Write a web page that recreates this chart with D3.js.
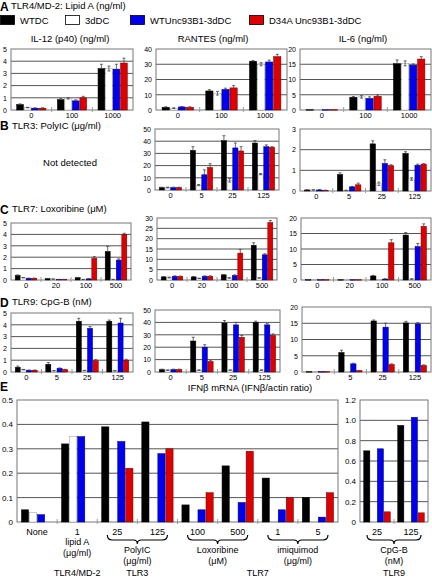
<!DOCTYPE html>
<html><head><meta charset="utf-8">
<script src="https://cdn.jsdelivr.net/npm/d3@7"></script>
<style>body{margin:0;background:#fff;font-family:"Liberation Sans",Arial,sans-serif}</style>
</head><body><svg id="c" width="432" height="578"></svg>
<script>
const seriesNames = ["WTDC","3dDC","WTUnc93B1-3dDC","D34A Unc93B1-3dDC"];
const seriesColors = ["#000000","#ffffff","#0000ee","#dd0000"];
const seriesStroke = ["#000000","#999999","#000066","#660000"];

const dosesA = ["0","100","1000"];
const dosesB = ["0","5","25","125"];
const dosesC = ["0","20","100","500"];
const dosesD = ["0","5","25","125"];

// values per dose group: [WTDC, 3dDC, WTUnc93B1, D34A]
const il12A = [[0.45,0.2,0.15,0.15],[0.85,0.95,0.75,1.0],[3.4,3.4,3.35,3.85]];
const il12Aerr = [[0.05,0.02,0.03,0.03],[0.08,0.05,0.08,0.12],[0.35,0.2,0.4,0.4]];
const rantesA = [[1.8,1.2,2.0,1.8],[12.5,11,13.5,14.5],[32,30,31.5,35]];
const rantesAerr = [[0.3,0.2,0.3,0.3],[0.8,1.2,0.8,1.5],[0.4,1,1.2,1.5]];
const il6A = [[0.1,0.1,0.1,0.1],[4.2,4.3,3.8,4.5],[15.2,15.3,14.7,16.7]];
const il6Aerr = [[0,0,0,0],[0.2,0.4,0.5,0.4],[1.2,0.8,0.4,0.8]];

const rantesB = [[2,2,2,2],[32.5,4,12.5,18.5],[40.5,8,34.5,32],[38.5,13,35.5,35]];
const rantesBerr = [[0.3,0.3,0.3,0.3],[3,0.5,4,3],[4,1.5,4,3.5],[2,0.5,1.5,0.5]];
const il6B = [[0.05,0.05,0.05,0.03],[0.8,0.03,0.2,0.3],[2.28,0.35,1.33,1.23],[1.82,0.58,1.25,1.3]];
const il6Berr = [[0.01,0.01,0.02,0.01],[0.08,0.01,0.02,0.08],[0.15,0.08,0.18,0.04],[0.08,0.06,0.05,0.02]];

const il12C = [[0.4,0.2,0.15,0.15],[0.12,0.08,0.05,0.05],[0.2,0.05,0.1,1.9],[2.5,0.05,1.75,4.0]];
const il12Cerr = [[0.05,0.02,0.02,0.02],[0.02,0.01,0.01,0.01],[0.03,0.01,0.02,0.15],[0.45,0.01,0.1,0.1]];
const rantesC = [[1.5,1.2,1.8,1.7],[1.5,0.8,1.8,1.8],[2.5,1.0,2.2,13],[16.8,1.0,12.2,27.8]];
const rantesCerr = [[0.2,0.2,0.2,0.2],[0.2,0.1,0.2,0.2],[0.2,0.1,0.3,1.8],[1.2,0.1,0.5,1.0]];
const il6C = [[0.1,0.1,0.1,0.1],[0.1,0.1,0.1,0.1],[1.3,0.05,0.3,12],[14.5,0.3,10.8,17.3]];
const il6Cerr = [[0,0,0,0],[0,0,0,0],[0.2,0,0.1,1.0],[0.8,0.1,1.0,0.8]];

const il12D = [[0.4,0.2,0.15,0.15],[0.65,0.1,0.32,0.2],[4.3,0.12,3.7,0.95],[4.3,0.1,4.15,1.0]];
const il12Derr = [[0.1,0.02,0.02,0.02],[0.15,0.01,0.02,0.03],[0.25,0.02,0.15,0.1],[0.1,0.01,0.4,0.08]];
const rantesD = [[2,1.5,2,2],[25,1.5,20,8.5],[39.5,1.5,38,28],[40,1.5,38,29.5]];
const rantesDerr = [[0.3,0.2,0.3,0.3],[3,0.2,2,1],[2,0.2,2,1.5],[1,0.2,1,1.2]];
const il6D = [[0.1,0.1,0.1,0.1],[6,0.1,2.5,0.4],[15.7,0.1,13.8,2.3],[15.1,0.1,14.8,2.0]];
const il6Derr = [[0,0,0,0],[0.7,0,0.2,0.1],[0.3,0,1.2,0.2],[0.5,0,0.4,0.2]];

// Panel E: IFNb mRNA
const catsE = ["None","1","25","125","100","500","1 ","5"];
const ifnE = [[0.05,0.04,0.03,null],[0.32,0.35,0.35,null],[0.39,null,0.33,0.22],[0.41,null,0.28,0.30],[0.07,null,0.05,0.12],[0.23,null,0.08,0.29],[0.18,null,0.05,0.10],[0.10,null,0.02,0.12]];
const catsE9 = ["25","125"];
const ifnE9 = [[0.70,null,0.72,0.10],[0.95,null,1.03,0.09]];

const svg = d3.select("#c");
const FONT = "'Liberation Sans',Arial,sans-serif";

function txt(x,y,s,size,opts={}){
  const t = svg.append("text").attr("x",x).attr("y",y).text(s)
    .attr("font-family",FONT).attr("font-size",size).attr("fill","#000");
  if(opts.anchor) t.attr("text-anchor",opts.anchor);
  if(opts.bold) t.attr("font-weight","bold");
  return t;
}

function panel(cfg){
  const {x0,x1,y0,y1,max,step,cats,data,err,fmt,pad} = cfg;
  const g = svg.append("g");
  const y = d3.scaleLinear().domain([0,max]).range([y1,y0]);
  const x = d3.scaleBand().domain(cats).range([x0,x1]).paddingInner(pad||0.28).paddingOuter((pad||0.28)/2);
  const xs = d3.scaleBand().domain([0,1,2,3]).range([0,x.bandwidth()]).paddingInner(0.1);
  const ticks = d3.range(0,max+step/2,step);
  g.selectAll("line.grid").data(ticks.filter(t=>t>0 && t<max-1e-9)).enter().append("line")
    .attr("x1",x0).attr("x2",x1).attr("y1",d=>y(d)).attr("y2",d=>y(d))
    .attr("stroke","#555").attr("stroke-width",1);
  g.append("rect").attr("x",x0).attr("y",y0).attr("width",x1-x0).attr("height",y1-y0)
    .attr("fill","none").attr("stroke","#777").attr("stroke-width",1);
  const bounds = cats.slice(1).map(c=>x(c)-x.step()*x.paddingInner()/2);
  g.selectAll("line.sep").data(bounds).enter().append("line")
    .attr("x1",d=>d).attr("x2",d=>d).attr("y1",y1-3).attr("y2",y1+2)
    .attr("stroke","#999").attr("stroke-width",1);
  const ya = d3.axisLeft(y).tickValues(ticks).tickSize(0).tickPadding(4).tickFormat(fmt||d3.format("d"));
  const ag = g.append("g").attr("transform",`translate(${x0},0)`).call(ya);
  ag.select(".domain").remove();
  ag.selectAll("text").attr("font-family",FONT).attr("font-size",cfg.yfs||7);
  if(!cfg.noX){
    const xa = d3.axisBottom(x).tickSize(0).tickPadding(cfg.xpad||3);
    const xg = g.append("g").attr("transform",`translate(0,${y1})`).call(xa);
    xg.select(".domain").remove();
    xg.selectAll("text").attr("font-family",FONT).attr("font-size",cfg.xfs||7.5);
  }
  cats.forEach((c,i)=>{
    data[i].forEach((v,s)=>{
      if(v===null) return;
      const bx = x(c)+xs(s);
      g.append("rect").attr("x",bx).attr("y",y(v)).attr("width",xs.bandwidth()).attr("height",Math.max(0.5,y1-y(v)))
        .attr("fill",seriesColors[s]).attr("stroke",seriesStroke[s]).attr("stroke-width",0.5);
      if(err){
        const e = err[i][s];
        if(e>0){
          const cx = bx+xs.bandwidth()/2;
          g.append("line").attr("x1",cx).attr("x2",cx).attr("y1",y(v)).attr("y2",y(v+e)).attr("stroke","#444").attr("stroke-width",0.8);
          g.append("line").attr("x1",cx-1.5).attr("x2",cx+1.5).attr("y1",y(v+e)).attr("y2",y(v+e)).attr("stroke","#444").attr("stroke-width",0.8);
          if(s===1){
            g.append("line").attr("x1",cx).attr("x2",cx).attr("y1",y(v)).attr("y2",y(Math.max(0,v-e))).attr("stroke","#444").attr("stroke-width",0.8);
            g.append("line").attr("x1",cx-1.5).attr("x2",cx+1.5).attr("y1",y(Math.max(0,v-e))).attr("y2",y(Math.max(0,v-e))).attr("stroke","#444").attr("stroke-width",0.8);
          }
        }
      }
    });
  });
  return {x,y};
}

// Header
txt(0,11,"A",12,{bold:true});
txt(11,9,"TLR4/MD-2: Lipid A (ng/ml)",9.5);
const legX = [0,65,130,249];
seriesNames.forEach((n,i)=>{
  svg.append("rect").attr("x",legX[i]+0.5).attr("y",15.5).attr("width",14).attr("height",9)
    .attr("fill",seriesColors[i]).attr("stroke","#000").attr("stroke-width",0.8);
  txt(legX[i]+20,24,n,9.5);
});
txt(70,42,"IL-12 (p40) (ng/ml)",9.5,{anchor:"middle"});
txt(213,42,"RANTES (ng/ml)",9.5,{anchor:"middle"});
txt(363,42,"IL-6 (ng/ml)",9.5,{anchor:"middle"});

// Row A
panel({x0:11,x1:133,y0:49,y1:110,max:5,step:1,cats:dosesA,data:il12A,err:il12Aerr});
panel({x0:156,x1:287,y0:49,y1:110,max:40,step:10,cats:dosesA,data:rantesA,err:rantesAerr});
panel({x0:300,x1:431,y0:49,y1:110,max:20,step:5,cats:dosesA,data:il6A,err:il6Aerr});

// Row B
txt(0,130,"B",12,{bold:true});
txt(12,129,"TLR3: PolyIC (\u03bcg/ml)",9.5);
txt(70,166,"Not detected",9.5,{anchor:"middle"});
panel({x0:155,x1:279,y0:129,y1:190,max:50,step:10,cats:dosesB,data:rantesB,err:rantesBerr});
panel({x0:300,x1:431,y0:129,y1:191,max:3,step:1,cats:dosesB,data:il6B,err:il6Berr});

// Row C
txt(0,214,"C",12,{bold:true});
txt(12,212,"TLR7: Loxoribine (\u03bcM)",9.5);
panel({x0:11,x1:131,y0:223,y1:280,max:5,step:1,cats:dosesC,data:il12C,err:il12Cerr});
panel({x0:157,x1:277,y0:218,y1:280,max:30,step:5,cats:dosesC,data:rantesC,err:rantesCerr});
panel({x0:301,x1:431,y0:218,y1:280,max:20,step:5,cats:dosesC,data:il6C,err:il6Cerr});

// Row D
txt(0,307,"D",12,{bold:true});
txt(12,305,"TLR9: CpG-B (nM)",9.5);
panel({x0:11,x1:133,y0:313,y1:372,max:5,step:1,cats:dosesD,data:il12D,err:il12Derr});
panel({x0:155,x1:280,y0:310,y1:372,max:50,step:10,cats:dosesD,data:rantesD,err:rantesDerr});
panel({x0:302,x1:431,y0:307,y1:372,max:20,step:5,cats:dosesD,data:il6D,err:il6Derr});

// Panel E
txt(0,391,"E",12,{bold:true});
txt(250,391,"IFN\u03b2 mRNA (IFN\u03b2/actin ratio)",9.5,{anchor:"middle"});
const fmtE = d=>d===0?"0":d3.format(".1f")(d);
const pE = panel({x0:17,x1:338,y0:400,y1:522,max:0.5,step:0.1,cats:catsE,data:ifnE,fmt:fmtE,pad:0.22,xpad:7,xfs:9,yfs:8});
const pE9 = panel({x0:360,x1:428,y0:400,y1:522,max:1.2,step:0.2,cats:catsE9,data:ifnE9,fmt:fmtE,pad:0.22,xpad:7,xfs:9,yfs:8});

function brace(xa,xb,yb){
  const p = d3.path();
  p.moveTo(xa,yb-5); p.quadraticCurveTo(xa,yb,xa+5,yb);
  p.lineTo((xa+xb)/2-4,yb); p.quadraticCurveTo((xa+xb)/2,yb,(xa+xb)/2,yb+4);
  p.quadraticCurveTo((xa+xb)/2,yb,(xa+xb)/2+4,yb);
  p.lineTo(xb-5,yb); p.quadraticCurveTo(xb,yb,xb,yb-5);
  svg.append("path").attr("d",p.toString()).attr("fill","none").attr("stroke","#000").attr("stroke-width",1.2);
}
const cx = c=>pE.x(c)+pE.x.bandwidth()/2;
txt(cx("1"),545,"lipid A",9,{anchor:"middle"});
txt(cx("1"),556,"(\u03bcg/ml)",9,{anchor:"middle"});
brace(cx("25")-10,cx("125")+10,540);
txt((cx("25")+cx("125"))/2,553,"PolyIC",9,{anchor:"middle"});
txt((cx("25")+cx("125"))/2,564,"(\u03bcg/ml)",9,{anchor:"middle"});
brace(cx("100")-10,cx("500")+10,540);
txt((cx("100")+cx("500"))/2,553,"Loxoribine",9,{anchor:"middle"});
txt((cx("100")+cx("500"))/2,564,"(\u03bcM)",9,{anchor:"middle"});
brace(cx("1 ")-10,cx("5")+10,540);
txt((cx("1 ")+cx("5"))/2,553,"imiquimod",9,{anchor:"middle"});
txt((cx("1 ")+cx("5"))/2,564,"(\u03bcg/ml)",9,{anchor:"middle"});
txt(cx("1"),576,"TLR4/MD-2",9,{anchor:"middle"});
txt((cx("25")+cx("125"))/2,576,"TLR3",9,{anchor:"middle"});
txt((cx("100")+cx("5"))/2,576,"TLR7",9,{anchor:"middle"});
const cx9 = c=>pE9.x(c)+pE9.x.bandwidth()/2;
brace(cx9("25")-10,cx9("125")+10,540);
txt((cx9("25")+cx9("125"))/2,553,"CpG-B",9,{anchor:"middle"});
txt((cx9("25")+cx9("125"))/2,564,"(nM)",9,{anchor:"middle"});
txt((cx9("25")+cx9("125"))/2,576,"TLR9",9,{anchor:"middle"});
</script></body></html>
